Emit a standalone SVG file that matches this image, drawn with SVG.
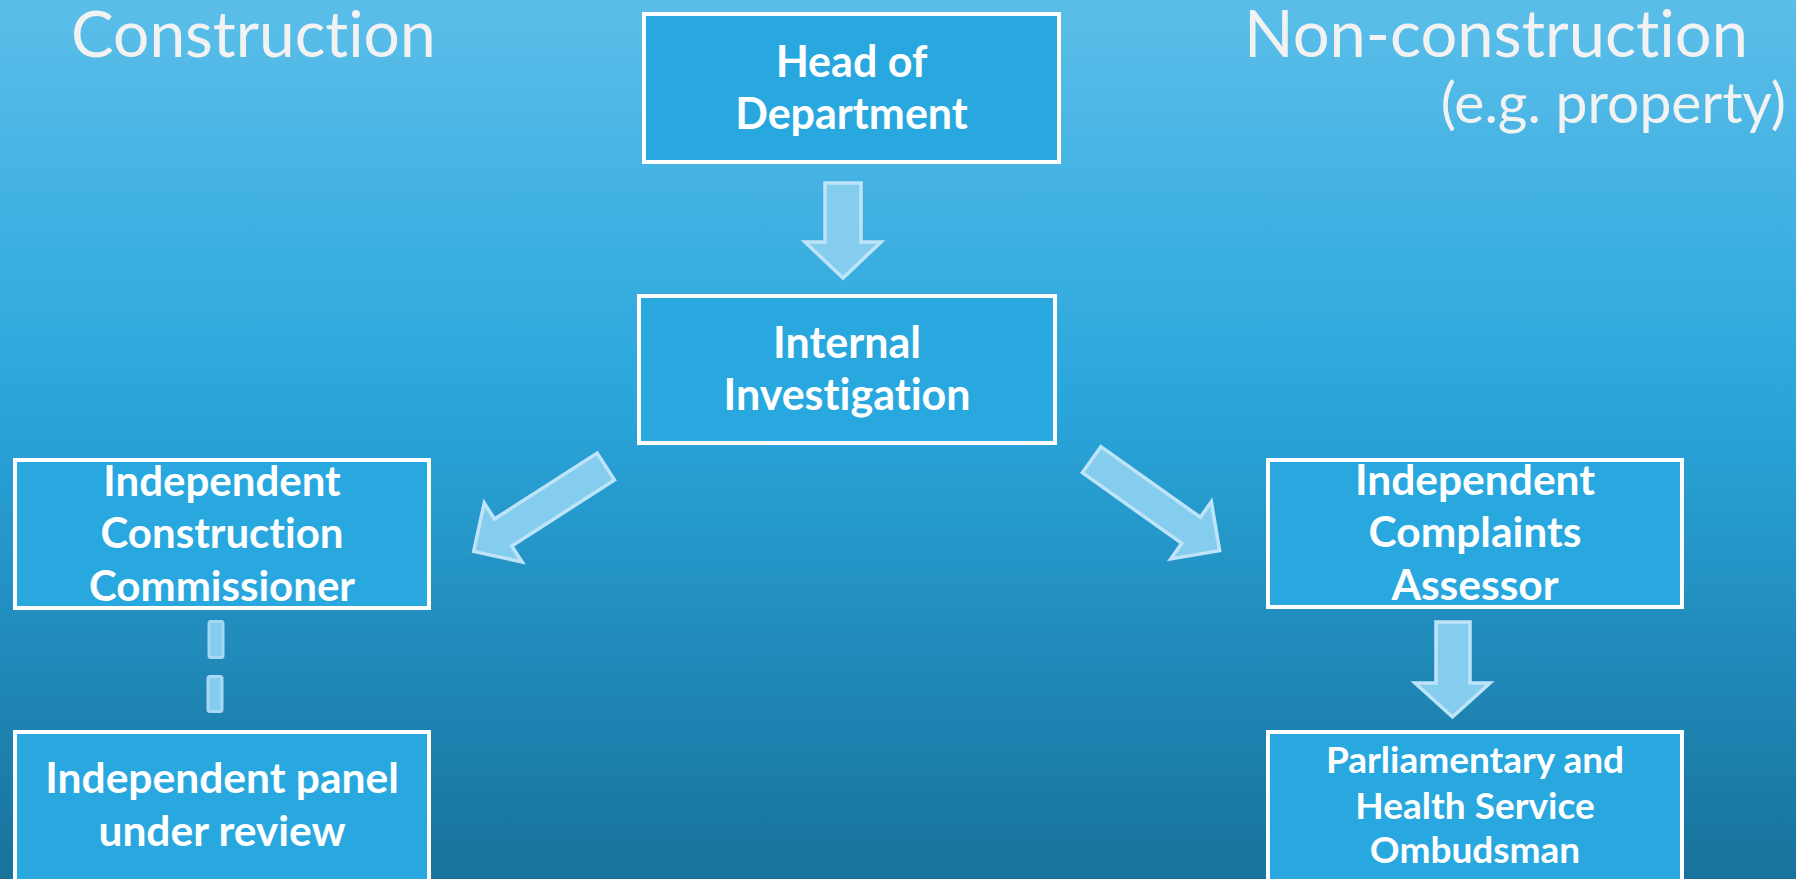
<svg xmlns="http://www.w3.org/2000/svg" width="1796" height="879" viewBox="0 0 1796 879">
<defs>
<linearGradient id="bg" x1="0" y1="0" x2="0" y2="1">
<stop offset="0" stop-color="#5bbee9"/>
<stop offset="0.45" stop-color="#2aa6dc"/>
<stop offset="1" stop-color="#18729c"/>
</linearGradient>
<style>
.box{fill:#29a8e0;stroke:#ffffff;stroke-width:4}
.arrow{fill:#84cdef;stroke:#bfe4fa;stroke-width:3.5;stroke-linejoin:miter}
.dash{fill:#84cdef;stroke:#a9d9f2;stroke-width:3}
.t{font-family:Lato,"Open Sans","Liberation Sans",sans-serif;font-weight:700;fill:#ffffff;text-anchor:middle;font-variant-ligatures:none}
.title{font-family:Lato,"Open Sans","Liberation Sans",sans-serif;font-weight:400;fill:#f2f2f2;font-variant-ligatures:none}
</style>
</defs>
<rect x="0" y="0" width="1796" height="879" fill="url(#bg)"/>
<text class="title" x="71" y="57" font-size="64">Construction</text>
<text class="title" x="1748" y="57" font-size="65" text-anchor="end">Non-construction</text>
<text class="title" x="1786" y="123" font-size="57" text-anchor="end">(e.g. property)</text>
<g id="connectors">
<polygon class="arrow" points="825,183 861,183 861,242 881,242 843,278 805,242 825,242"/>
<polygon class="arrow" transform="translate(607.5,465.5) rotate(57.3)" points="-16,2 16,2 16,124 35,124 0,159 -35,124 -16,124"/>
<polygon class="arrow" transform="translate(1090,458.5) rotate(-54.6)" points="-16,2 16,2 16,124 35,124 0,159 -35,124 -16,124"/>
<polygon class="arrow" points="1436,622 1470,622 1470,683 1490,683 1452.5,717 1415,683 1436,683"/>
<rect class="dash" x="209" y="621.5" width="14" height="36" rx="2"/>
<rect class="dash" x="208" y="676.5" width="14" height="35" rx="2"/>
</g>
<g id="head">
<rect class="box" x="644" y="14" width="415" height="148"/>
<text class="t" font-size="43" x="851.5" y="77">Head of</text>
<text class="t" font-size="43" x="851.5" y="129">Department</text>
</g>
<g id="internal">
<rect class="box" x="639" y="296" width="416" height="147"/>
<text class="t" font-size="43" x="847" y="358">Internal</text>
<text class="t" font-size="43" x="847" y="410">Investigation</text>
</g>
<g id="icc">
<rect class="box" x="15" y="460" width="414" height="148"/>
<text class="t" font-size="42" x="222" y="496">Independent</text>
<text class="t" font-size="42" x="222" y="548">Construction</text>
<text class="t" font-size="42" x="222" y="601">Commissioner</text>
</g>
<g id="panel">
<rect class="box" x="15" y="732" width="414" height="200"/>
<text class="t" font-size="42.5" x="222" y="793">Independent panel</text>
<text class="t" font-size="42.5" x="222" y="846">under review</text>
</g>
<g id="ica">
<rect class="box" x="1268" y="460" width="414" height="147"/>
<text class="t" font-size="42.5" x="1475" y="495">Independent</text>
<text class="t" font-size="42.5" x="1475" y="547">Complaints</text>
<text class="t" font-size="42.5" x="1475" y="600">Assessor</text>
</g>
<g id="phso">
<rect class="box" x="1268" y="732" width="414" height="200"/>
<text class="t" font-size="37" x="1475" y="773">Parliamentary and</text>
<text class="t" font-size="37" x="1475" y="819">Health Service</text>
<text class="t" font-size="37" x="1475" y="863">Ombudsman</text>
</g>
</svg>
